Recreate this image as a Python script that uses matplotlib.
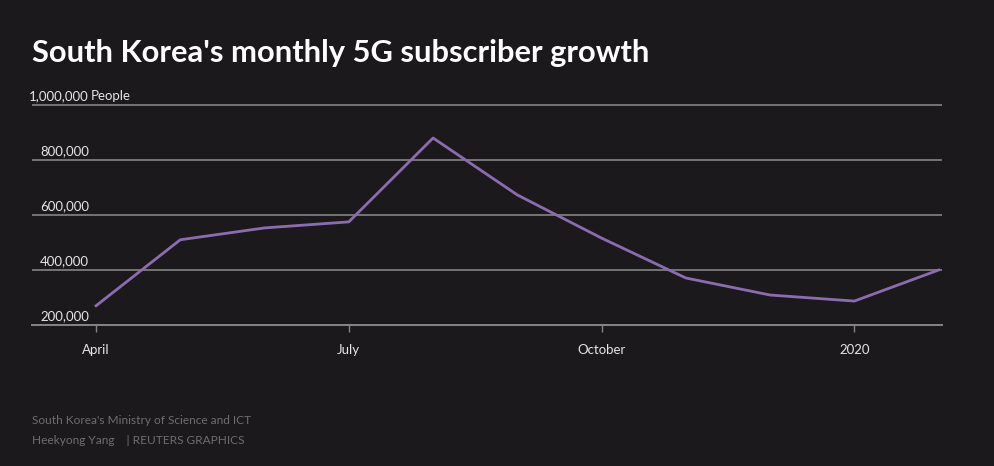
import numpy as np
import matplotlib
matplotlib.use('Agg')
from matplotlib import pyplot as plt
from matplotlib import transforms

# monthly 5G subscriber additions, April 2019 - February 2020
months = ['Apr', 'May', 'Jun', 'Jul', 'Aug', 'Sep', 'Oct', 'Nov', 'Dec', 'Jan', 'Feb']
subscribers = [270000, 510000, 553000, 575000, 880000, 673000, 516000, 371000, 309000, 287000, 400000]
tick_pos = [0, 3, 6, 9]
tick_labels = ['April', 'July', 'October', '2020']
y_ticks = [200000, 400000, 600000, 800000, 1000000]

BG = '#1b191c'
GRID = '#858585'
TXT = '#e6e6e6'
LINE = '#8c6cb0'

plt.rcParams['font.family'] = ['Lato', 'DejaVu Sans']

fig = plt.figure(figsize=(9.94, 4.66), dpi=100, facecolor=BG)
ax = fig.add_axes([32 / 994, 1 - 325 / 466, 910 / 994, 221 / 466], facecolor=BG)

x = np.arange(len(months))
ax.plot(x, subscribers, color=LINE, lw=2.0, solid_joinstyle='round', zorder=3)

ax.set_xlim(-0.76, 10.04)
ax.set_ylim(200000, 1000000 + 200000 * 1 / 55)

for v in y_ticks[1:]:
    ax.axhline(v, color=GRID, lw=1.2, zorder=1)

for s in ['top', 'right', 'left']:
    ax.spines[s].set_visible(False)
ax.spines['bottom'].set_color(GRID)
ax.spines['bottom'].set_linewidth(1.4)

ax.set_yticks([])
ax.set_xticks(tick_pos)
ax.set_xticklabels(tick_labels, color=TXT, fontsize=9.5)
ax.tick_params(axis='x', length=5, width=1, color=GRID, pad=9)

# y labels sit above the gridlines, right-aligned
tr = transforms.blended_transform_factory(fig.transFigure, ax.transData)
for v in y_ticks:
    ax.text(89 / 994, v + 200000 * 3 / 55, '{:,}'.format(v), transform=tr,
            ha='right', va='bottom', color=TXT, fontsize=9.5)
ax.text(91 / 994, 1000000 + 200000 * 3 / 55, 'People', transform=tr,
        ha='left', va='bottom', color=TXT, fontsize=9.5)

fig.text(32 / 994, 1 - 53 / 466, "South Korea's monthly 5G subscriber growth",
         color='white', fontsize=22.2, fontweight='bold', va='center', ha='left')

fig.text(32 / 994, 1 - 421 / 466, "South Korea's Ministry of Science and ICT",
         color='#6e6e6e', fontsize=8.6, va='center', ha='left')
fig.text(32 / 994, 1 - 440 / 466, "Heekyong Yang    | REUTERS GRAPHICS",
         color='#6e6e6e', fontsize=8.6, va='center', ha='left')

fig.savefig('out.png', dpi=100, facecolor=BG)
